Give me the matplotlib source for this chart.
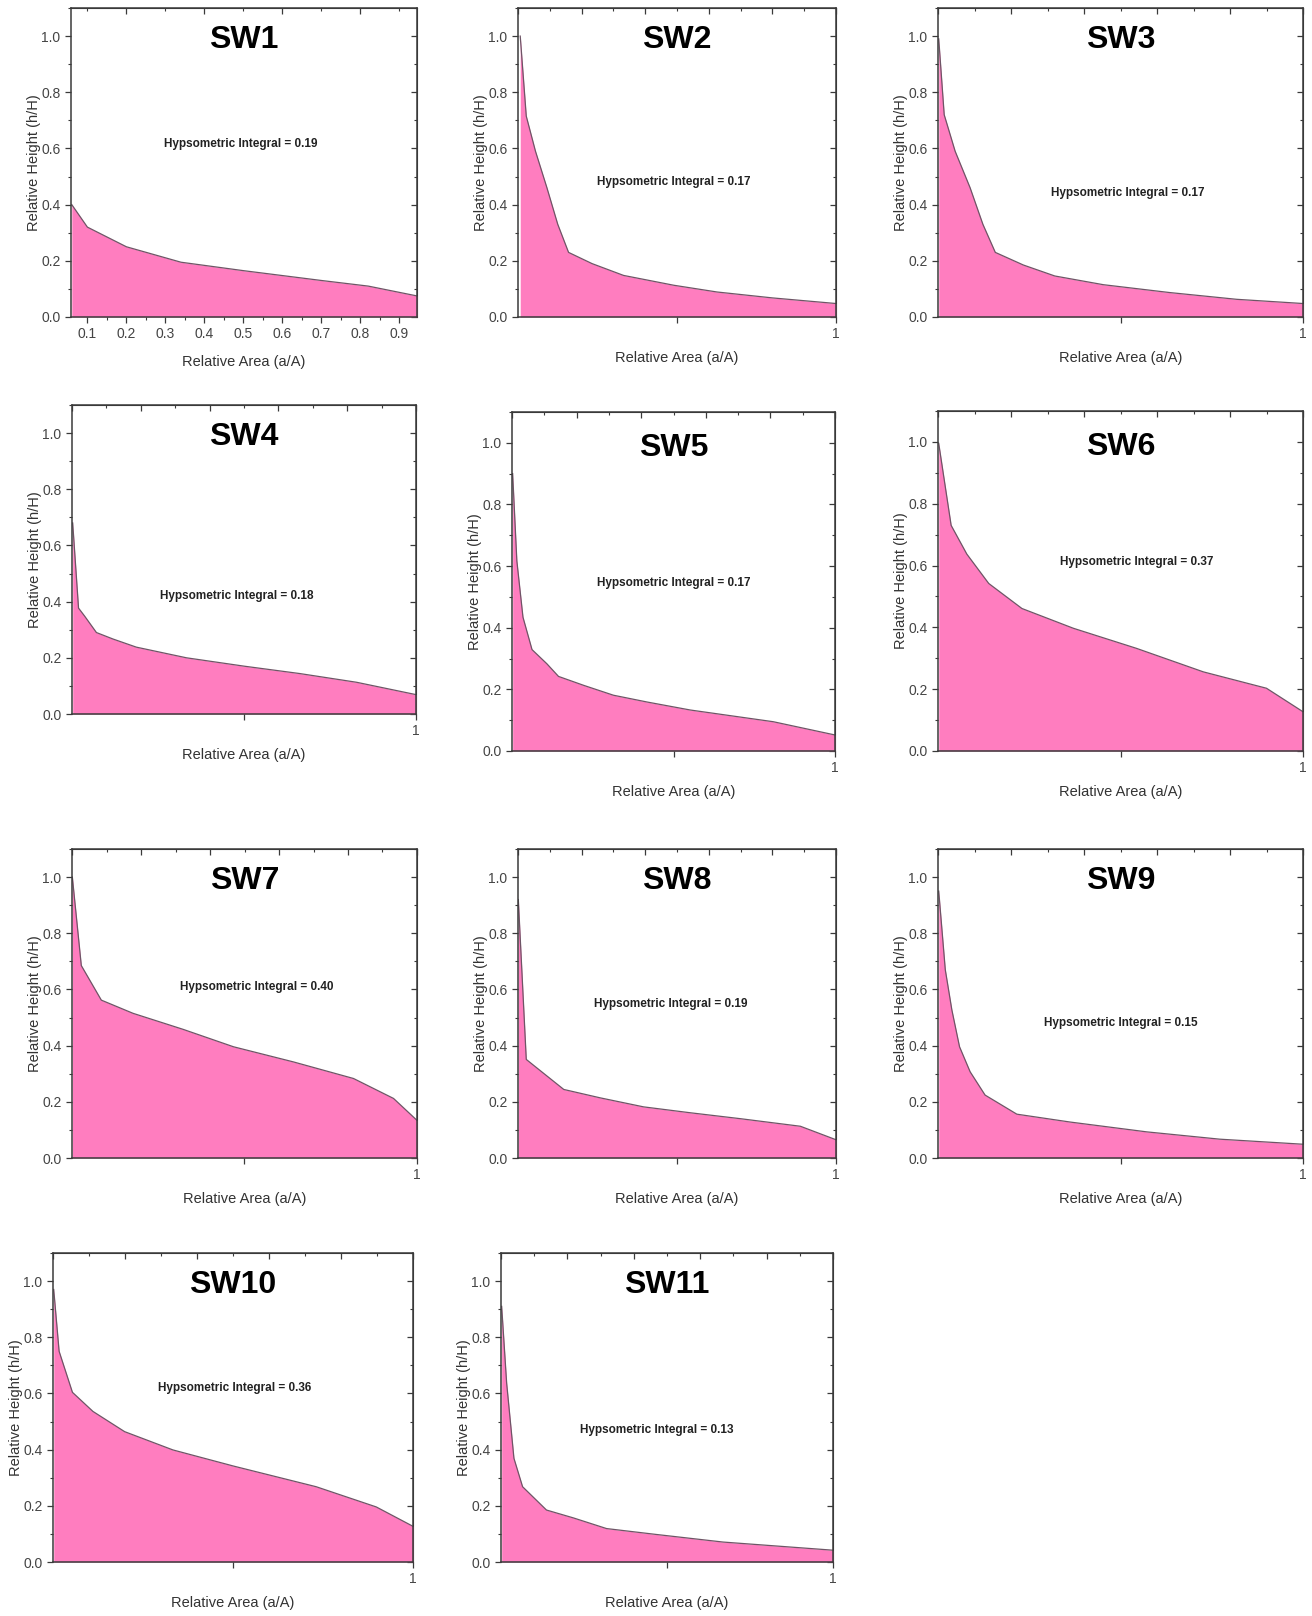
import numpy as np
import matplotlib
matplotlib.use("Agg")
import matplotlib.pyplot as plt
import matplotlib.transforms as mtransforms
from matplotlib.ticker import MultipleLocator

plt.rcParams['font.family'] = ['Liberation Sans', 'DejaVu Sans']

# ---------------- data ----------------
names = ["SW1", "SW2", "SW3", "SW4", "SW5", "SW6", "SW7", "SW8", "SW9", "SW10", "SW11"]
hi_values = ["0.19", "0.17", "0.17", "0.18", "0.17", "0.37", "0.40", "0.19", "0.15", "0.36", "0.13"]

sw1_x = [0.06, 0.10, 0.15, 0.20, 0.34, 0.50, 0.70, 0.82, 0.945]
sw1_y = [0.40, 0.32, 0.285, 0.25, 0.195, 0.165, 0.13, 0.11, 0.075]

sw2_x = [0.007, 0.026, 0.055, 0.091, 0.125, 0.159, 0.233, 0.332, 0.49, 0.626, 0.80, 1.0]
sw2_y = [1.00, 0.715, 0.59, 0.46, 0.33, 0.23, 0.19, 0.148, 0.113, 0.089, 0.068, 0.048]

sw3_x = [0.002, 0.017, 0.047, 0.088, 0.123, 0.157, 0.234, 0.32, 0.453, 0.635, 0.818, 1.0]
sw3_y = [0.99, 0.72, 0.59, 0.46, 0.33, 0.23, 0.185, 0.146, 0.115, 0.087, 0.063, 0.048]

sw4_x = [0.002, 0.019, 0.037, 0.071, 0.119, 0.187, 0.333, 0.502, 0.662, 0.827, 1.0]
sw4_y = [0.68, 0.377, 0.348, 0.29, 0.267, 0.238, 0.20, 0.17, 0.144, 0.113, 0.069]

sw5_x = [0.002, 0.015, 0.034, 0.062, 0.108, 0.144, 0.222, 0.314, 0.418, 0.552, 0.809, 1.0]
sw5_y = [0.90, 0.617, 0.434, 0.329, 0.283, 0.242, 0.213, 0.181, 0.159, 0.133, 0.095, 0.052]

sw6_x = [0.002, 0.036, 0.079, 0.139, 0.23, 0.371, 0.544, 0.727, 0.90, 1.0]
sw6_y = [0.995, 0.73, 0.637, 0.542, 0.461, 0.397, 0.332, 0.256, 0.203, 0.127]

sw7_x = [0.001, 0.027, 0.085, 0.177, 0.322, 0.468, 0.642, 0.816, 0.932, 1.0]
sw7_y = [1.00, 0.685, 0.562, 0.515, 0.458, 0.396, 0.342, 0.283, 0.212, 0.134]

sw8_x = [0.001, 0.026, 0.049, 0.144, 0.259, 0.395, 0.542, 0.699, 0.888, 1.0]
sw8_y = [0.92, 0.351, 0.33, 0.244, 0.214, 0.182, 0.161, 0.14, 0.113, 0.065]

sw9_x = [0.002, 0.02, 0.038, 0.059, 0.088, 0.129, 0.216, 0.362, 0.572, 0.772, 1.0]
sw9_y = [0.95, 0.67, 0.527, 0.396, 0.307, 0.224, 0.156, 0.128, 0.093, 0.067, 0.049]

sw10_x = [0.002, 0.017, 0.054, 0.111, 0.199, 0.333, 0.50, 0.731, 0.898, 1.0]
sw10_y = [0.97, 0.75, 0.604, 0.536, 0.464, 0.399, 0.342, 0.268, 0.196, 0.127]

sw11_x = [0.002, 0.017, 0.039, 0.065, 0.137, 0.218, 0.318, 0.468, 0.669, 1.0]
sw11_y = [0.91, 0.637, 0.369, 0.268, 0.185, 0.157, 0.119, 0.098, 0.071, 0.042]

xs = [sw1_x, sw2_x, sw3_x, sw4_x, sw5_x, sw6_x, sw7_x, sw8_x, sw9_x, sw10_x, sw11_x]
ys = [sw1_y, sw2_y, sw3_y, sw4_y, sw5_y, sw6_y, sw7_y, sw8_y, sw9_y, sw10_y, sw11_y]

sw1_xticks = [0.1, 0.2, 0.3, 0.4, 0.5, 0.6, 0.7, 0.8, 0.9]
y_ticks = [0.0, 0.2, 0.4, 0.6, 0.8, 1.0]

# ---------------- layout (pixel boxes: left, top, right, bottom) ----------------
W, H = 1312, 1616
boxes = [
    (71, 8, 417, 317), (518, 8, 836, 317), (938, 8, 1303, 317),
    (72, 405, 416, 714), (512, 412, 835, 751), (938, 411, 1303, 751),
    (72, 849, 417, 1158), (518, 849, 836, 1158), (938, 849, 1303, 1158),
    (53, 1253, 413, 1562), (501, 1253, 833, 1562),
]
# annotation position (axes x fraction, data y)
ann_pos = [(0.49, 0.616), (0.49, 0.48), (0.52, 0.44), (0.48, 0.42), (0.50, 0.544),
           (0.545, 0.61), (0.536, 0.61), (0.48, 0.55), (0.50, 0.48), (0.505, 0.62),
           (0.47, 0.47)]

FILL = '#ff7dbf'
EDGE = '#6e5566'
SPINE = '#3a3a3a'
TXT = '#333333'

fig = plt.figure(figsize=(W / 100, H / 100), dpi=100)
fig.patch.set_facecolor('white')

for i, name in enumerate(names):
    l, t, r, b = boxes[i]
    ax = fig.add_axes([l / W, 1 - b / H, (r - l) / W, (b - t) / H])
    x = np.array(xs[i])
    y = np.array(ys[i])
    ax.fill_between(x, 0, y, color=FILL, linewidth=0)
    ax.plot(x, y, color=EDGE, lw=0.9)

    ax.set_ylim(0, 1.1)
    if i == 0:
        ax.set_xlim(0.058, 0.945)
        ax.set_xticks(sw1_xticks)
        ax.set_xticklabels([f"{v:.1f}" for v in sw1_xticks])
        ax.xaxis.set_minor_locator(MultipleLocator(0.05))
    else:
        ax.set_xlim(0, 1)
        ax.set_xticks([0.5, 1.0])
        ax.set_xticklabels(['', '1'])
    ax.set_yticks(y_ticks)
    ax.set_yticklabels([f"{v:.1f}" for v in y_ticks])
    ax.yaxis.set_minor_locator(MultipleLocator(0.1))

    ax.tick_params(axis='both', which='major', direction='out', length=4, width=0.9,
                   colors=SPINE, labelcolor='#444444', labelsize=10)
    ax.tick_params(axis='both', which='minor', direction='out', length=2.5, width=0.8,
                   colors=SPINE)
    for s in ax.spines.values():
        s.set_color(SPINE)
        s.set_linewidth(1.1)

    # mirrored inward ticks on top and right
    sx = ax.secondary_xaxis('top')
    sx.xaxis.set_major_locator(MultipleLocator(0.2))
    sx.xaxis.set_minor_locator(MultipleLocator(0.1))
    sx.tick_params(which='major', direction='in', length=4, width=0.9, colors=SPINE, labeltop=False)
    sx.tick_params(which='minor', direction='in', length=2.5, width=0.8, colors=SPINE)
    sx.spines['top'].set_color(SPINE)
    sy = ax.secondary_yaxis('right')
    sy.yaxis.set_major_locator(MultipleLocator(0.2))
    sy.yaxis.set_minor_locator(MultipleLocator(0.1))
    sy.tick_params(which='major', direction='in', length=4, width=0.9, colors=SPINE, labelright=False)
    sy.tick_params(which='minor', direction='in', length=2.5, width=0.8, colors=SPINE)
    sy.spines['right'].set_color(SPINE)

    ax.set_ylabel('Relative Height (h/H)', fontsize=10.5, color=TXT, labelpad=0)
    ax.set_xlabel('Relative Area (a/A)', fontsize=10.5, color=TXT,
                  labelpad=10 if i == 0 else 7)

    ax.text(0.5, 0.895, name, transform=ax.transAxes, ha='center', va='center',
            fontsize=23, fontweight='bold', color='black')
    ax_x, ax_y = ann_pos[i]
    ax.text(ax_x, ax_y, f"Hypsometric Integral = {hi_values[i]}",
            transform=mtransforms.blended_transform_factory(ax.transAxes, ax.transData),
            ha='center', va='center', fontsize=8.5, fontweight='bold', color='#222222')

fig.savefig('out.png', dpi=100, facecolor='white')
